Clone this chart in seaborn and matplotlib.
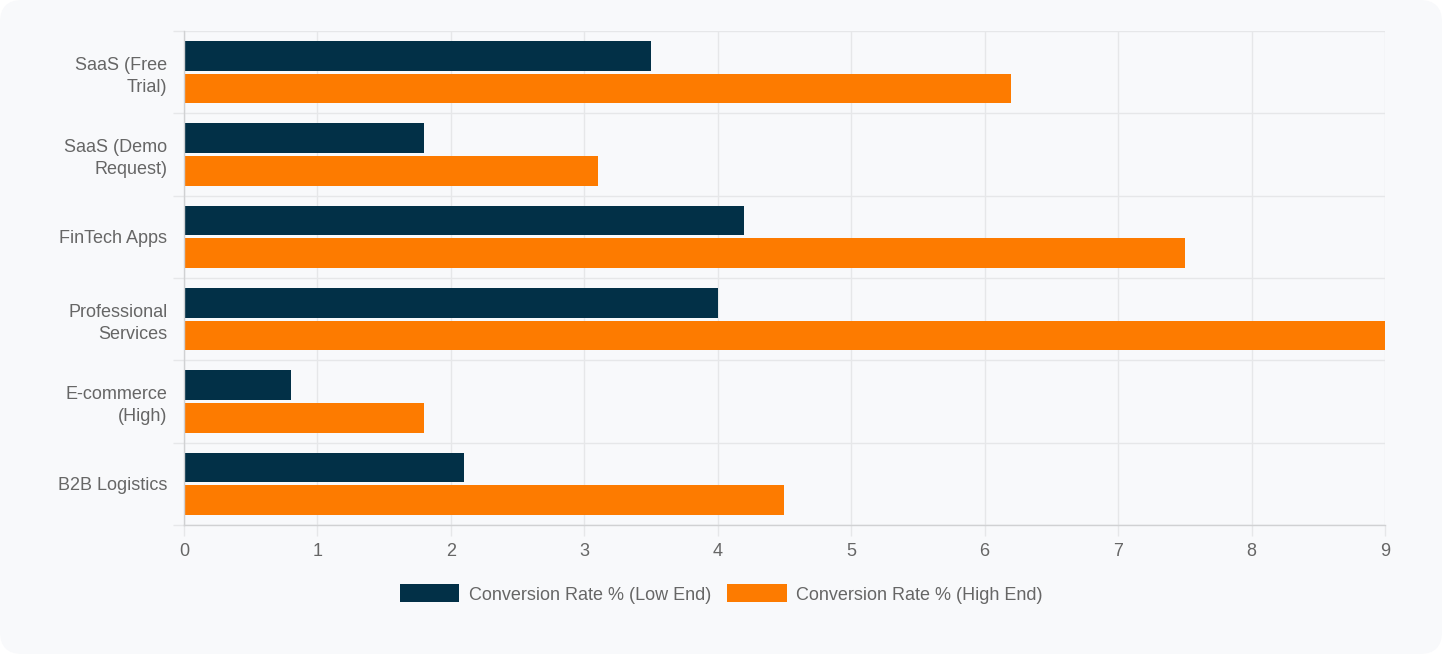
import matplotlib
matplotlib.use("Agg")
import matplotlib.pyplot as plt
from matplotlib.patches import FancyBboxPatch, Patch
from matplotlib.ticker import FixedLocator, NullFormatter
import seaborn as sns
import pandas as pd
import numpy as np

categories = ["SaaS (Free\nTrial)", "SaaS (Demo\nRequest)", "FinTech Apps",
              "Professional\nServices", "E-commerce\n(High)", "B2B Logistics"]
low_end = [3.5, 1.8, 4.2, 4.0, 0.8, 2.1]
high_end = [6.2, 3.1, 7.5, 9.0, 1.8, 4.5]
series_names = ["Conversion Rate % (Low End)", "Conversion Rate % (High End)"]
x_ticks = [0, 1, 2, 3, 4, 5, 6, 7, 8, 9]

colors = ["#023047", "#fd7b00"]
card = "#f8f9fb"
text_c = "#666666"
grid_c = "#e6e7e9"
axis_c = "#d0d1d3"
fs = 13

df = pd.DataFrame({
    "category": categories * 2,
    "value": low_end + high_end,
    "series": [series_names[0]] * len(categories) + [series_names[1]] * len(categories),
})

sns.set_theme(style="white")
plt.rcParams["font.family"] = ["Liberation Sans", "DejaVu Sans"]

fig = plt.figure(figsize=(14.42, 6.54), dpi=100, facecolor="white")
fig.patches.append(FancyBboxPatch((0.0, 0.0), 14.42, 6.54,
                                  boxstyle="round,pad=0,rounding_size=0.22",
                                  transform=fig.dpi_scale_trans,
                                  facecolor=card, edgecolor="none", zorder=-10))

ax = fig.add_axes([184 / 1442, 1 - 525 / 654, (1385 - 184) / 1442, (525 - 31) / 654])
ax.set_facecolor("none")

sns.barplot(data=df, y="category", x="value", hue="series", order=categories,
            hue_order=series_names, palette=colors, orient="h",
            width=0.8, gap=0.1, dodge=True, ax=ax, legend=False,
            edgecolor="none", linewidth=0, saturation=1)

ax.set_xlim(0, 9)
ax.set_ylim(len(categories) - 0.5, -0.5)
ax.set_xticks(x_ticks)
ax.set_xticklabels([str(t) for t in x_ticks])
ax.set_xlabel("")
ax.set_ylabel("")

# gridlines
ax.set_axisbelow(True)
ax.xaxis.grid(True, color=grid_c, linewidth=1)
ax.yaxis.set_minor_locator(FixedLocator(np.arange(-0.5, len(categories), 1.0)))
ax.yaxis.set_minor_formatter(NullFormatter())
ax.yaxis.grid(True, which="minor", color=grid_c, linewidth=1)
ax.yaxis.grid(False, which="major")

ax.tick_params(axis="y", which="major", length=0, pad=12, labelsize=fs, labelcolor=text_c)
ax.tick_params(axis="y", which="minor", length=8, color=grid_c, width=1, left=True)
ax.tick_params(axis="x", which="major", length=8, color=grid_c, width=1, bottom=True,
               pad=5, labelsize=fs, labelcolor=text_c)
for lab in ax.get_yticklabels():
    lab.set_linespacing(1.35)

for s in ["top", "right"]:
    ax.spines[s].set_visible(False)
ax.spines["left"].set_color(axis_c)
ax.spines["bottom"].set_color(axis_c)
ax.spines["left"].set_linewidth(1)
ax.spines["bottom"].set_linewidth(1)

handles = [Patch(facecolor=colors[0], edgecolor="none"),
           Patch(facecolor=colors[1], edgecolor="none")]
fig.legend(handles, series_names, loc="center", bbox_to_anchor=(0.5, 1 - 594 / 654),
           ncol=2, frameon=False, fontsize=fs, labelcolor=text_c,
           handlelength=3.32, handleheight=1.15, handletextpad=0.5, columnspacing=0.9)

fig.savefig("out.png", dpi=100, facecolor="white")
